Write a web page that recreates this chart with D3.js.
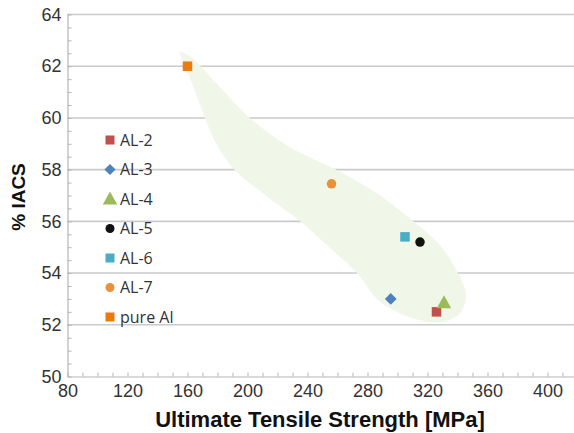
<!DOCTYPE html>
<html>
<head>
<meta charset="utf-8">
<script src="https://cdn.jsdelivr.net/npm/d3@7"></script>
<style>
  html, body { margin: 0; padding: 0; background: #fff; }
  svg { display: block; }
</style>
</head>
<body>
<svg id="chart" width="574" height="433"></svg>
<script>
// Alloy samples: tensile strength (MPa) vs electrical conductivity (% IACS)
const series = ["AL-2", "AL-3", "AL-4", "AL-5", "AL-6", "AL-7", "pure Al"];
const strength = [326, 295.5, 331, 315, 305, 256, 160];
const conductivity = [52.5, 53.0, 52.85, 55.2, 55.4, 57.45, 62.0];
const colors = ["#c0504d", "#4f81bd", "#9bbb59", "#111111", "#4bacc6", "#e8913a", "#ec7a0c"];
const shapes = ["square", "diamond", "triangle", "circle", "square", "circle", "square"];

const xTicks = [80, 120, 160, 200, 240, 280, 320, 360, 400];
const yTicks = [50, 52, 54, 56, 58, 60, 62, 64];

// Shaded trend region, outline in data units (MPa, % IACS), clockwise from the top tip
const regionMPa  = [155.0, 163.0, 180.3, 201.7, 228.3, 259.7, 287.0, 310.3, 328.3, 340.3, 345.7, 341.7, 331.7, 321.7,
                    303.0, 287.0, 273.0, 255.0, 235.0, 211.7, 191.7, 179.7, 171.7, 164.3, 158.3];
const regionIACS = [62.55, 62.32, 61.27, 59.99, 58.87, 57.98, 57.06, 56.01, 55.08, 54.00, 53.15, 52.45, 52.14, 52.10,
                    52.41, 52.96, 54.00, 54.97, 56.01, 57.02, 57.98, 58.95, 59.99, 61.16, 62.01];

const svg = d3.select("#chart");
const plotLeft = 67.5, plotRight = 577.5, plotTop = 14.5, plotBottom = 376.5;

const x = d3.scaleLinear().domain([80, 420]).range([plotLeft, plotRight]);
const y = d3.scaleLinear().domain([50, 64]).range([plotBottom, plotTop]);

// horizontal gridlines
svg.append("g").selectAll("line").data(yTicks.slice(1)).join("line")
  .attr("x1", plotLeft).attr("x2", 574)
  .attr("y1", d => y(d)).attr("y2", d => y(d))
  .attr("stroke", "#cacaca").attr("stroke-width", 1.6);

// shaded region
const region = regionMPa.map((v, i) => [v, regionIACS[i]]);
svg.append("path")
  .attr("d", d3.line().x(d => x(d[0])).y(d => y(d[1])).curve(d3.curveCatmullRomClosed.alpha(0.5))(region))
  .attr("fill", "#f0f6e8");

// axes
const axisColor = "#b5b5b5";
const tickFont = "Liberation Sans, Arial, sans-serif";
const xAxis = d3.axisBottom(x).tickValues(xTicks).tickSize(0).tickPadding(8);
const gx = svg.append("g").attr("transform", `translate(0,${plotBottom})`).call(xAxis);
gx.select(".domain").attr("stroke", axisColor).attr("stroke-width", 1.2);
gx.selectAll("text").attr("font-family", tickFont).attr("font-size", 18).attr("fill", "#333");
const xMinor = d3.axisBottom(x).tickValues(d3.range(80, 421, 10)).tickSize(-4).tickFormat("");
const gxm = svg.append("g").attr("transform", `translate(0,${plotBottom})`).call(xMinor);
gxm.select(".domain").remove();
gxm.selectAll("line").attr("stroke", axisColor);

const yAxis = d3.axisLeft(y).tickValues(yTicks).tickSize(0).tickPadding(6);
const gy = svg.append("g").attr("transform", `translate(${plotLeft},0)`).call(yAxis);
gy.select(".domain").attr("stroke", axisColor).attr("stroke-width", 1.2);
gy.selectAll("text").attr("font-family", tickFont).attr("font-size", 18).attr("fill", "#333");
const yMinor = d3.axisLeft(y).tickValues(d3.range(50, 64.01, 0.5)).tickSize(-4).tickFormat("");
const gym = svg.append("g").attr("transform", `translate(${plotLeft},0)`).call(yMinor);
gym.select(".domain").remove();
gym.selectAll("line").attr("stroke", axisColor);

// axis titles
svg.append("text").attr("x", 320).attr("y", 427).attr("text-anchor", "middle")
  .attr("font-family", tickFont).attr("font-weight", "bold")
  .attr("font-size", 22).attr("fill", "#111").text("Ultimate Tensile Strength [MPa]");
svg.append("text").attr("transform", "translate(25,197) rotate(-90)").attr("text-anchor", "middle")
  .attr("font-family", tickFont).attr("font-weight", "bold")
  .attr("font-size", 19).attr("fill", "#111").text("% IACS");

// marker drawing
function marker(g, shape, color, s) {
  if (shape === "square") {
    g.append("rect").attr("x", -s / 2).attr("y", -s / 2).attr("width", s).attr("height", s).attr("fill", color);
  } else if (shape === "circle") {
    g.append("circle").attr("r", s / 2).attr("fill", color);
  } else if (shape === "diamond") {
    const h = s * 0.62;
    g.append("path").attr("d", `M0,${-h}L${h},0L0,${h}L${-h},0Z`).attr("fill", color);
  } else if (shape === "triangle") {
    const h = s * 0.6;
    g.append("path").attr("d", `M0,${-h * 1.05}L${h},${h * 0.75}L${-h},${h * 0.75}Z`).attr("fill", color);
  }
}

// data points
series.forEach((name, i) => {
  const g = svg.append("g").attr("transform", `translate(${x(strength[i])},${y(conductivity[i])})`);
  marker(g, shapes[i], colors[i], shapes[i] === "triangle" ? 12 : 9.5);
});

// legend
const legend = svg.append("g").attr("transform", "translate(110,140)");
series.forEach((name, i) => {
  const row = legend.append("g").attr("transform", `translate(0,${i * 29.5})`);
  marker(row, shapes[i], colors[i], shapes[i] === "triangle" ? 12 : 9);
  row.append("text").attr("x", 10).attr("y", 0).attr("dy", "0.36em")
    .attr("font-family", "Open Sans, sans-serif").attr("font-size", 16).attr("fill", "#333")
    .text(name);
});
</script>
</body>
</html>
